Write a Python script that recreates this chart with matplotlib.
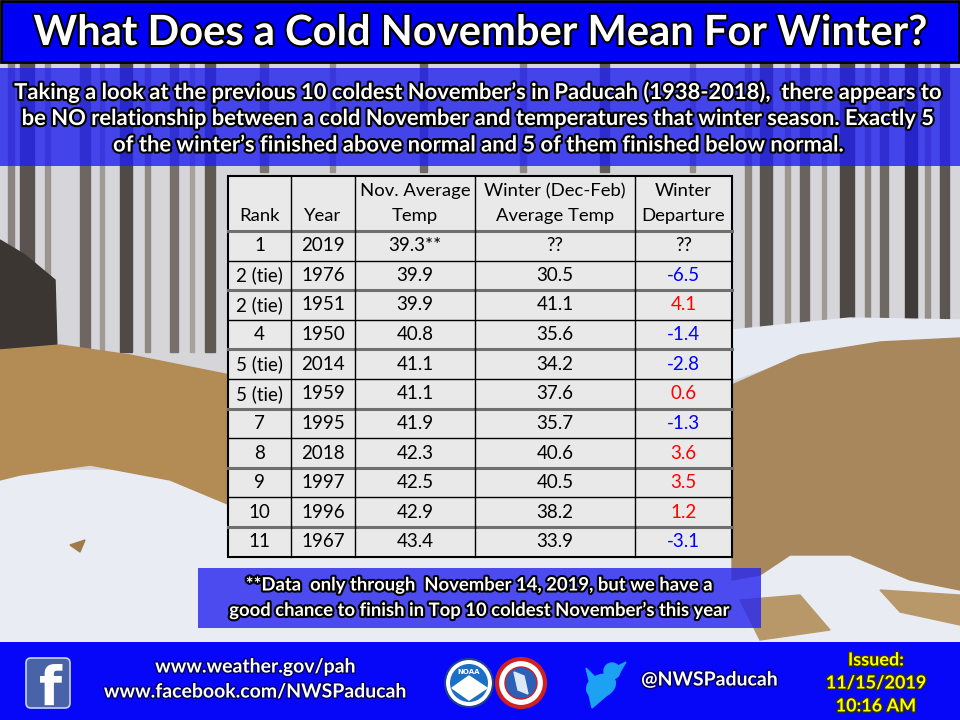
import matplotlib
matplotlib.use("Agg")
import matplotlib.pyplot as plt
import matplotlib.patheffects as pe
from matplotlib.patches import Rectangle, Polygon, Circle, Ellipse, FancyBboxPatch

# table data
col_headers = ["Rank", "Year", "Nov. Average\nTemp", "Winter (Dec-Feb)\nAverage Temp", "Winter\nDeparture"]
ranks = ["1", "2 (tie)", "2 (tie)", "4", "5 (tie)", "5 (tie)", "7", "8", "9", "10", "11"]
years = ["2019", "1976", "1951", "1950", "2014", "1959", "1995", "2018", "1997", "1996", "1967"]
nov_avg = ["39.3**", "39.9", "39.9", "40.8", "41.1", "41.1", "41.9", "42.3", "42.5", "42.9", "43.4"]
winter_avg = ["??", "30.5", "41.1", "35.6", "34.2", "37.6", "35.7", "40.6", "40.5", "38.2", "33.9"]
departure = [None, -6.5, 4.1, -1.4, -2.8, 0.6, -1.3, 3.6, 3.5, 1.2, -3.1]

title = "What Does a Cold November Mean For Winter?"
intro = ["Taking a look at the previous 10 coldest November\u2019s in Paducah (1938-2018),  there appears to",
         "be NO relationship between a cold November and temperatures that winter season. Exactly 5",
         "of the winter\u2019s finished above normal and 5 of them finished below normal."]
footnote = ["**Data  only through  November 14, 2019, but we have a",
            "good chance to finish in Top 10 coldest November\u2019s this year"]

fig = plt.figure(figsize=(9.6, 7.2), dpi=100)
ax = fig.add_axes([0, 0, 1, 1])
ax.set_xlim(0, 960)
ax.set_ylim(720, 0)
ax.axis("off")

BOLD = ["Lato", "DejaVu Sans"]
REG = ["Lato", "DejaVu Sans"]
outline = [pe.withStroke(linewidth=3, foreground="black")]
soft = [pe.withStroke(linewidth=2, foreground="#000060")]

# --- rough painted backdrop standing in for the snowy woods photo ---
ax.add_patch(Rectangle((0, 62), 960, 580, color="#d6d6da", zorder=0))
trunks = [(8, 6, "#8a8480"), (20, 14, "#5a5350"), (45, 5, "#9a948e"), (80, 10, "#6e6660"),
          (100, 4, "#a09a94"), (120, 12, "#4f4a46"), (145, 5, "#8e8882"), (170, 8, "#77706a"),
          (190, 4, "#a8a29c"), (205, 10, "#5f5954"), (745, 6, "#8a847e"), (760, 12, "#5a5450"),
          (785, 5, "#9c968f"), (800, 9, "#6a625c"), (822, 4, "#a09a94"), (840, 14, "#4d4844"),
          (865, 5, "#8a847e"), (880, 8, "#6f6862"), (905, 12, "#3f3b38"), (925, 5, "#948e88"),
          (940, 9, "#5c5652")]
for x0, w, c in trunks:
    ax.add_patch(Rectangle((x0, 62), w, 290, color=c, zorder=1))
for x0, w, c in [(260, 8, "#7a746e"), (330, 5, "#9a948e"), (420, 7, "#6e6862"), (520, 6, "#8e8882"),
                 (600, 9, "#625c57"), (690, 5, "#948e88")]:
    ax.add_patch(Rectangle((x0, 62), w, 110, color=c, zorder=1))
ax.add_patch(Polygon([(0, 240), (25, 255), (55, 280), (58, 385), (0, 390)], color="#3b3632", zorder=1))
ax.add_patch(Rectangle((0, 470), 960, 172, color="#e9ecf3", zorder=1))
ax.add_patch(Polygon([(0, 350), (60, 345), (130, 355), (230, 375), (230, 505), (170, 480),
                      (90, 465), (20, 475), (0, 480)], color="#b28b55", zorder=2))
ax.add_patch(Polygon([(732, 330), (850, 318), (960, 320), (960, 340), (860, 345), (790, 360),
                      (732, 380)], color="#e6eaf2", zorder=2))
ax.add_patch(Polygon([(732, 385), (800, 355), (880, 342), (960, 338), (960, 590), (910, 580),
                      (850, 555), (790, 555), (760, 575), (732, 580)], color="#a9875c", zorder=2))
ax.add_patch(Polygon([(880, 590), (960, 595), (960, 625), (900, 612)], color="#b89868", zorder=2))
ax.add_patch(Polygon([(740, 600), (800, 595), (830, 630), (760, 640)], color="#b89868", zorder=2))
ax.add_patch(Polygon([(70, 545), (85, 540), (80, 552)], color="#a07a4a", zorder=2))

# --- title bar ---
ax.add_patch(Rectangle((1, 1), 958, 61, facecolor="#0000f5", edgecolor="black", lw=2, zorder=3))
ax.text(480, 33, title, ha="center", va="center", color="white", fontsize=30,
        fontweight="bold", family=["Lato", "DejaVu Sans"], path_effects=outline, zorder=4)

# --- intro panel ---
ax.add_patch(Rectangle((0, 68), 960, 98, facecolor="#2020f0", alpha=0.8, lw=0, zorder=3))
for i, line in enumerate(intro):
    ax.text(480, 92 + i * 26.5, line, ha="center", va="center", color="white", fontsize=15.8,
            fontweight="bold", family=BOLD, path_effects=outline, zorder=4)

# --- table ---
col_edges = [228, 291, 355, 475, 635, 732]
top, head_h, row_h = 176, 55, 29.6
centers = [(col_edges[i] + col_edges[i + 1]) / 2 for i in range(5)]
n_rows = len(ranks)
bottom = top + head_h + n_rows * row_h
ax.add_patch(Rectangle((col_edges[0], top), col_edges[-1] - col_edges[0], bottom - top,
                       facecolor="#e9e9e9", edgecolor="black", lw=1.5, zorder=3))

for j, h in enumerate(col_headers):
    lines = h.split("\n")
    if len(lines) == 1:
        ax.text(centers[j], 216, lines[0], ha="center", va="center", fontsize=13.3, family=REG, zorder=5)
    else:
        ax.text(centers[j], 191, lines[0], ha="center", va="center", fontsize=13.3, family=REG, zorder=5)
        ax.text(centers[j], 216, lines[1], ha="center", va="center", fontsize=13.3, family=REG, zorder=5)

for r in range(n_rows):
    y0 = top + head_h + r * row_h
    yc = y0 + row_h / 2
    if r % 2 == 0:
        ax.plot([col_edges[0], col_edges[-1]], [y0, y0], color="#6f6f6f", lw=2.2, zorder=4)
    else:
        ax.plot([col_edges[0], col_edges[-1]], [y0, y0], color="black", lw=1, zorder=4)
    d = departure[r]
    if d is None:
        dep_txt, dep_col = "??", "black"
    else:
        dep_txt, dep_col = f"{d:.1f}", ("#0000ff" if d < 0 else "#ff0000")
    row = [ranks[r], years[r], nov_avg[r], winter_avg[r], dep_txt]
    for j, val in enumerate(row):
        ax.text(centers[j], yc, val, ha="center", va="center", fontsize=13.5, family=REG,
                color=dep_col if j == 4 else "black", zorder=5)

for x in col_edges[1:-1]:
    ax.plot([x, x], [top, bottom], color="black", lw=1, zorder=4)

# --- footnote ---
ax.add_patch(Rectangle((198, 568), 563, 60, facecolor="#2828f0", alpha=0.82, lw=0, zorder=3))
for i, line in enumerate(footnote):
    ax.text(480, 585 + i * 25, line, ha="center", va="center", color="white", fontsize=13.3,
            fontweight="bold", family=BOLD, path_effects=outline, zorder=4)

# --- footer ---
ax.add_patch(Rectangle((0, 642), 960, 78, facecolor="#0606f8", lw=0, zorder=3))

ax.add_patch(FancyBboxPatch((27, 659), 42, 48, boxstyle="round,pad=1,rounding_size=5",
                            facecolor="#4863a8", edgecolor="#c8d2ea", lw=1.2, zorder=4))
ax.text(51, 690, "f", ha="center", va="center", color="white", fontsize=38, fontweight="bold",
        family=["DejaVu Sans"], zorder=5)

ax.text(256, 667, "www.weather.gov/pah", ha="center", va="center", color="white", fontsize=14,
        fontweight="bold", family=BOLD, path_effects=soft, zorder=5)
ax.text(256, 692, "www.facebook.com/NWSPaducah", ha="center", va="center", color="white", fontsize=14,
        fontweight="bold", family=BOLD, path_effects=soft, zorder=5)

# NOAA logo
ax.add_patch(Circle((469, 683), 24, facecolor="white", edgecolor="#1f3f8f", lw=1.5, zorder=4))
ax.add_patch(Circle((469, 683), 19, facecolor="#1c6fc6", lw=0, zorder=5))
ax.add_patch(Polygon([(452, 688), (469, 676), (487, 688), (469, 700)], color="white", zorder=6))
ax.text(469, 672, "NOAA", ha="center", va="center", color="white", fontsize=5, fontweight="bold", zorder=7)
# NWS logo
ax.add_patch(Circle((521, 683), 24, facecolor="white", edgecolor="#d02020", lw=3, zorder=4))
ax.add_patch(Circle((521, 683), 16, facecolor="#2c5fb8", edgecolor="#d02020", lw=1, zorder=5))
ax.add_patch(Polygon([(514, 672), (524, 676), (528, 694), (518, 690)], color="#dde8f5", zorder=6))

# twitter bird
tw = "#1da1f2"
ax.add_patch(Ellipse((601, 686), 30, 22, angle=-25, color=tw, zorder=4))
ax.add_patch(Circle((612, 671), 8, color=tw, zorder=4))
ax.add_patch(Polygon([(618, 666), (626, 662), (620, 672)], color=tw, zorder=4))
ax.add_patch(Polygon([(588, 690), (592, 708), (606, 696)], color=tw, zorder=4))
ax.add_patch(Polygon([(586, 668), (600, 682), (590, 684)], color=tw, zorder=4))

ax.text(710, 680, "@NWSPaducah", ha="center", va="center", color="white", fontsize=14,
        fontweight="bold", family=BOLD, path_effects=soft, zorder=5)

for i, line in enumerate(["Issued:", "11/15/2019", "10:16 AM"]):
    ax.text(876, 660 + i * 23, line, ha="center", va="center", color="#ffff00", fontsize=13,
            fontweight="bold", family=BOLD, path_effects=[pe.withStroke(linewidth=2, foreground="#303000")], zorder=5)

fig.savefig("out.png", dpi=100)
